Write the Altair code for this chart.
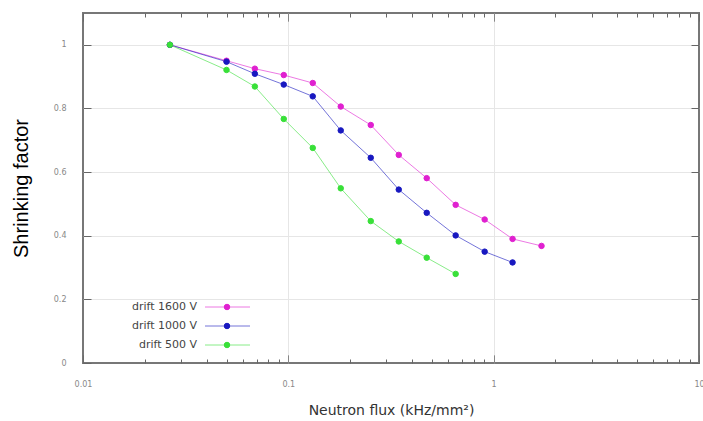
import altair as alt
import pandas as pd

# ---- data ----
flux = [0.0265, 0.050, 0.0687, 0.095, 0.1315, 0.180, 0.252, 0.345, 0.472, 0.653, 0.904, 1.236, 1.71]
drift_1600 = [1.0, 0.95, 0.925, 0.905, 0.88, 0.806, 0.748, 0.654, 0.581, 0.497, 0.451, 0.39, 0.368]
drift_1000 = [1.0, 0.947, 0.909, 0.875, 0.838, 0.731, 0.645, 0.545, 0.472, 0.401, 0.35, 0.316]
drift_500 = [1.0, 0.921, 0.869, 0.767, 0.676, 0.549, 0.446, 0.382, 0.331, 0.280]
series_names = ["drift 1600 V", "drift 1000 V", "drift 500 V"]
series_colors = ["#e020d0", "#1818c0", "#38e038"]
x_major = [0.01, 0.1, 1, 10]
y_ticks = [0, 0.2, 0.4, 0.6, 0.8, 1.0]

rows = []
for name, vals in zip(series_names, [drift_1600, drift_1000, drift_500]):
    for i, (xv, yv) in enumerate(zip(flux, vals)):
        rows.append({"series": name, "flux": xv, "factor": yv, "order": i})
df = pd.DataFrame(rows)
legend_df = pd.DataFrame({"series": series_names})

x_ticks = []
for m in x_major[:-1]:
    x_ticks += [round(m * k, 6) for k in range(1, 10)]
x_ticks.append(x_major[-1])

MAJ = "abs(log(datum.value)/LN10 - round(log(datum.value)/LN10)) < 0.001"
INNER = f"({MAJ}) && datum.value > 0.011 && datum.value < 9.9"

xscale = alt.Scale(type="log", domain=[0.01, 10], nice=False)
yscale = alt.Scale(domain=[0, 1.1], nice=False, zero=True)

def cscale():
    return alt.Scale(domain=series_names, range=series_colors)

x_axis = alt.Axis(
    values=x_ticks, offset=-8, domain=False, tickSize=8, tickColor="#666",
    tickDash={"condition": {"test": MAJ, "value": [1, 0]}, "value": [0, 4, 4, 0]},
    grid=True, gridColor="#e6e6e6",
    gridOpacity={"condition": {"test": INNER, "value": 1}, "value": 0},
    labelExpr=f"({MAJ}) ? format(datum.value, '~g') : ''",
    labelFont="DejaVu Sans", labelFontSize=8, labelColor="#888",
    labelPadding=17, labelOverlap=False, labelBound=False, labelFlush=False,
    title="Neutron flux (kHz/mm²)", titleFont="DejaVu Sans", titleFontSize=14,
    titleFontWeight="normal", titleColor="#333", titlePadding=15,
)
y_axis = alt.Axis(
    values=y_ticks, offset=-8, domain=False, tickSize=8, tickColor="#666",
    grid=True, gridColor="#e6e6e6",
    gridOpacity={"condition": {"test": "datum.value > 0.01", "value": 1}, "value": 0},
    format=".1~f",
    labelFont="DejaVu Sans", labelFontSize=8, labelColor="#888", labelPadding=17,
    title="Shrinking factor", titleFont="Liberation Sans", titleFontSize=20,
    titleFontWeight="normal", titleColor="#000", titlePadding=22,
)

lines = alt.Chart(df).mark_line(strokeWidth=1, opacity=0.6).encode(
    x=alt.X("flux:Q", scale=xscale, axis=x_axis),
    y=alt.Y("factor:Q", scale=yscale, axis=y_axis),
    color=alt.Color("series:N", scale=cscale(), legend=None),
    detail="series:N",
)

points = alt.Chart(df).mark_point(filled=True, size=30, strokeWidth=1, opacity=1).encode(
    x=alt.X("flux:Q", scale=xscale, axis=None),
    y=alt.Y("factor:Q", scale=yscale, axis=None),
    fill=alt.Fill("series:N", scale=cscale(), legend=None),
    stroke=alt.Stroke("series:N", scale=cscale(), legend=None),
)

mirror = alt.Chart(df).mark_point(opacity=0).encode(
    x=alt.X("flux:Q", scale=xscale, axis=alt.Axis(
        orient="top", values=x_ticks, offset=-8, domain=False, tickSize=8, tickColor="#666",
        tickDash={"condition": {"test": MAJ, "value": [1, 0]}, "value": [0, 4, 4, 0]},
        labels=False, grid=False, title=None)),
    y=alt.Y("factor:Q", scale=yscale, axis=alt.Axis(
        orient="right", values=y_ticks, offset=-8, domain=False, tickSize=8,
        tickColor="#666", labels=False, grid=False, title=None)),
)

# ---- legend (inside, bottom-left), label left of the line+dot sample ----
def leg_y():
    return alt.Y("series:N", axis=None,
                 scale=alt.Scale(type="point", domain=series_names, range=[294, 332], padding=0))

leg_text = alt.Chart(legend_df).mark_text(
    align="right", baseline="middle", font="DejaVu Sans", fontSize=11, color="#444"
).encode(x=alt.value(114), y=leg_y(), text="series:N")

leg_line = alt.Chart(legend_df).mark_rule(strokeWidth=1, opacity=0.6).encode(
    x=alt.value(122), x2=alt.value(167), y=leg_y(),
    color=alt.Color("series:N", scale=cscale(), legend=None),
)

leg_dot = alt.Chart(legend_df).mark_point(filled=True, size=30, strokeWidth=1, opacity=1).encode(
    x=alt.value(144), y=leg_y(),
    fill=alt.Fill("series:N", scale=cscale(), legend=None),
    stroke=alt.Stroke("series:N", scale=cscale(), legend=None),
)

chart = alt.layer(lines, points, mirror, leg_line, leg_dot, leg_text).resolve_scale(
    y="independent"
).resolve_axis(
    x="independent", y="independent"
).properties(
    width=616, height=350,
    autosize=alt.AutoSizeParams(type="none"),
    padding={"left": 83, "top": 13, "right": 4, "bottom": 58},
).configure(background="white").configure_view(stroke="#777", strokeWidth=2)

chart.save("out.html", embed_options={"renderer": "svg", "actions": False})
